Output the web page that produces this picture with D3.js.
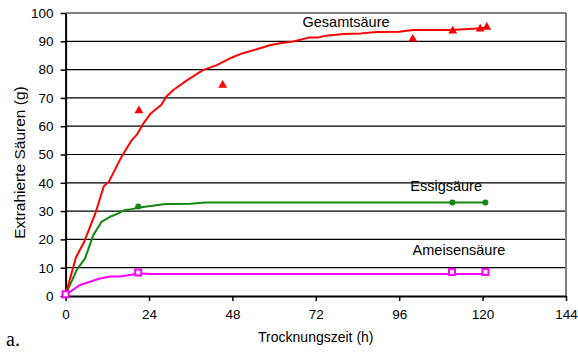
<!DOCTYPE html>
<html>
<head>
<meta charset="utf-8">
<script src="https://cdn.jsdelivr.net/npm/d3@7"></script>
<style>
  html, body { margin: 0; padding: 0; background: #fff; }
  svg { display: block; }
  text { fill: #000; }
</style>
</head>
<body>
<div id="chart"></div>
<script>
// Extracted acids during drying (g) versus drying time (h)

// Gesamtsäure – fitted curve
const totalLineT = [0, 3, 5.3, 8.5, 11, 12.5, 16, 19, 20.5, 22.4, 24.5, 27.5, 29, 31, 35, 39.5, 43.5, 47.3, 51, 55, 59, 62.7, 65.5, 70, 72.5, 75, 80, 85, 89.5, 96, 100, 111, 119.5, 121];
const totalLineV = [0.5, 13.7, 19, 29, 38.8, 40.5, 49, 55, 57, 61, 64.5, 67.5, 70.5, 72.8, 76.3, 79.8, 81.6, 84, 85.8, 87.2, 88.7, 89.5, 89.9, 91.3, 91.3, 92, 92.6, 92.8, 93.3, 93.4, 94, 94, 94.6, 94.8];
// Gesamtsäure – measured
const totalPtsT = [0, 21.1, 45.2, 99.9, 111.4, 119.3, 121.2];
const totalPtsV = [0.5, 65.5, 74.5, 90.8, 93.7, 94.4, 95];

// Essigsäure – fitted curve
const aceticLineT = [0, 3.2, 5.6, 8, 10.4, 12.8, 15.2, 17.1, 19, 20.9, 23.3, 25.2, 28.1, 30, 36, 40, 121];
const aceticLineV = [0.4, 9.2, 13.3, 21.6, 26.3, 28, 29.2, 30.4, 30.7, 31.2, 31.6, 31.9, 32.4, 32.5, 32.6, 33, 33];
// Essigsäure – measured
const aceticPtsT = [0, 20.9, 111.3, 120.8];
const aceticPtsV = [0.4, 31.6, 33, 33];

// Ameisensäure – fitted curve
const formicLineT = [0, 4.1, 9.9, 12.8, 15.6, 18.5, 20.9, 24.3, 121.5];
const formicLineV = [0.4, 3.9, 6.2, 6.9, 6.9, 7.4, 8, 7.8, 7.8];
// Ameisensäure – measured
const formicPtsT = [0, 20.9, 111.2, 120.8];
const formicPtsV = [0.6, 8.3, 8.5, 8.5];

const xTicks = [0, 24, 48, 72, 96, 120, 144];
const yTicks = [0, 10, 20, 30, 40, 50, 60, 70, 80, 90, 100];

const seriesLabels = [
  { name: "Gesamtsäure", t: 80.7, v: 96.3 },
  { name: "Essigsäure", t: 109.5, v: 38.6 },
  { name: "Ameisensäure", t: 113.2, v: 15.9 }
];

const SANS = "Arial, 'Liberation Sans', sans-serif";
const SERIF = "'Liberation Serif', 'Times New Roman', serif";

const W = 578, H = 354;
const margin = { top: 13, right: 12, bottom: 58, left: 65.6 };
const iw = W - margin.left - margin.right;
const ih = H - margin.top - margin.bottom;

const svg = d3.select("#chart").append("svg").attr("width", W).attr("height", H);
const g = svg.append("g").attr("transform", `translate(${margin.left},${margin.top})`);

const x = d3.scaleLinear().domain([0, 144]).range([0, iw]);
const y = d3.scaleLinear().domain([0, 100]).range([ih, 0]);

// horizontal gridlines
g.append("g").selectAll("line").data(yTicks.filter(d => d > 0 && d < 100)).join("line")
  .attr("x1", 0).attr("x2", iw)
  .attr("y1", d => y(d)).attr("y2", d => y(d))
  .attr("stroke", "#000").attr("stroke-width", 1.2);

// grey frame top and right
g.append("line").attr("x1", 0).attr("x2", iw).attr("y1", y(100)).attr("y2", y(100))
  .attr("stroke", "#808080").attr("stroke-width", 2);
g.append("line").attr("x1", iw).attr("x2", iw).attr("y1", 0).attr("y2", ih)
  .attr("stroke", "#808080").attr("stroke-width", 2);

// axes
const yAxis = g.append("g").call(d3.axisLeft(y).tickValues(yTicks).tickSize(5).tickPadding(7).tickSizeOuter(0));
const xAxis = g.append("g").attr("transform", `translate(0,${ih})`)
  .call(d3.axisBottom(x).tickValues(xTicks).tickSize(5).tickPadding(8).tickSizeOuter(0));
[yAxis, xAxis].forEach(a => {
  a.select(".domain").attr("stroke", "#000").attr("stroke-width", 2);
  a.selectAll(".tick line").attr("stroke", "#000").attr("stroke-width", 1.5);
  a.selectAll(".tick text").attr("font-size", 13.5).style("font-family", SANS).attr("fill", "#000");
});

const line = d3.line().x(d => x(d[0])).y(d => y(d[1]));
const zip = (a, b) => a.map((t, i) => [t, b[i]]);

const series = [
  { color: "#ff0000", line: zip(totalLineT, totalLineV), pts: zip(totalPtsT, totalPtsV), marker: "triangle" },
  { color: "#118811", line: zip(aceticLineT, aceticLineV), pts: zip(aceticPtsT, aceticPtsV), marker: "circle" },
  { color: "#ff00ff", line: zip(formicLineT, formicLineV), pts: zip(formicPtsT, formicPtsV), marker: "square" }
];

// curves: formic first, total last
series.slice().reverse().forEach(s => {
  g.append("path").datum(s.line).attr("d", line)
    .attr("fill", "none").attr("stroke", s.color).attr("stroke-width", 2).attr("stroke-linejoin", "round");
});

// measured points
series.forEach(s => {
  const mg = g.append("g");
  if (s.marker === "triangle") {
    mg.selectAll("path").data(s.pts).join("path")
      .attr("d", d3.symbol().type(d3.symbolTriangle).size(34))
      .attr("transform", d => `translate(${x(d[0])},${y(d[1])})`)
      .attr("fill", s.color);
  } else if (s.marker === "circle") {
    mg.selectAll("circle").data(s.pts).join("circle")
      .attr("cx", d => x(d[0])).attr("cy", d => y(d[1])).attr("r", 3)
      .attr("fill", s.color);
  } else {
    mg.selectAll("rect").data(s.pts).join("rect")
      .attr("x", d => x(d[0]) - 3).attr("y", d => y(d[1]) - 3)
      .attr("width", 6).attr("height", 6)
      .attr("fill", "#fff").attr("stroke", s.color).attr("stroke-width", 2);
  }
});

// series names
g.append("g").selectAll("text").data(seriesLabels).join("text")
  .attr("x", d => x(d.t)).attr("y", d => y(d.v))
  .attr("text-anchor", "middle").attr("dominant-baseline", "middle")
  .attr("font-size", 14.5).style("font-family", SANS)
  .text(d => d.name);

// axis titles
svg.append("text")
  .attr("x", margin.left + iw / 2).attr("y", 342)
  .attr("text-anchor", "middle").attr("font-size", 14).style("font-family", SANS)
  .text("Trocknungszeit (h)");
svg.append("text")
  .attr("transform", `translate(25,162.5) rotate(-90)`)
  .attr("text-anchor", "middle").attr("font-size", 15.5).style("font-family", SANS)
  .text("Extrahierte Säuren (g)");

// panel label
svg.append("text")
  .attr("x", 6).attr("y", 346)
  .style("font-family", SERIF)
  .attr("font-size", 20)
  .text("a.");
</script>
</body>
</html>
